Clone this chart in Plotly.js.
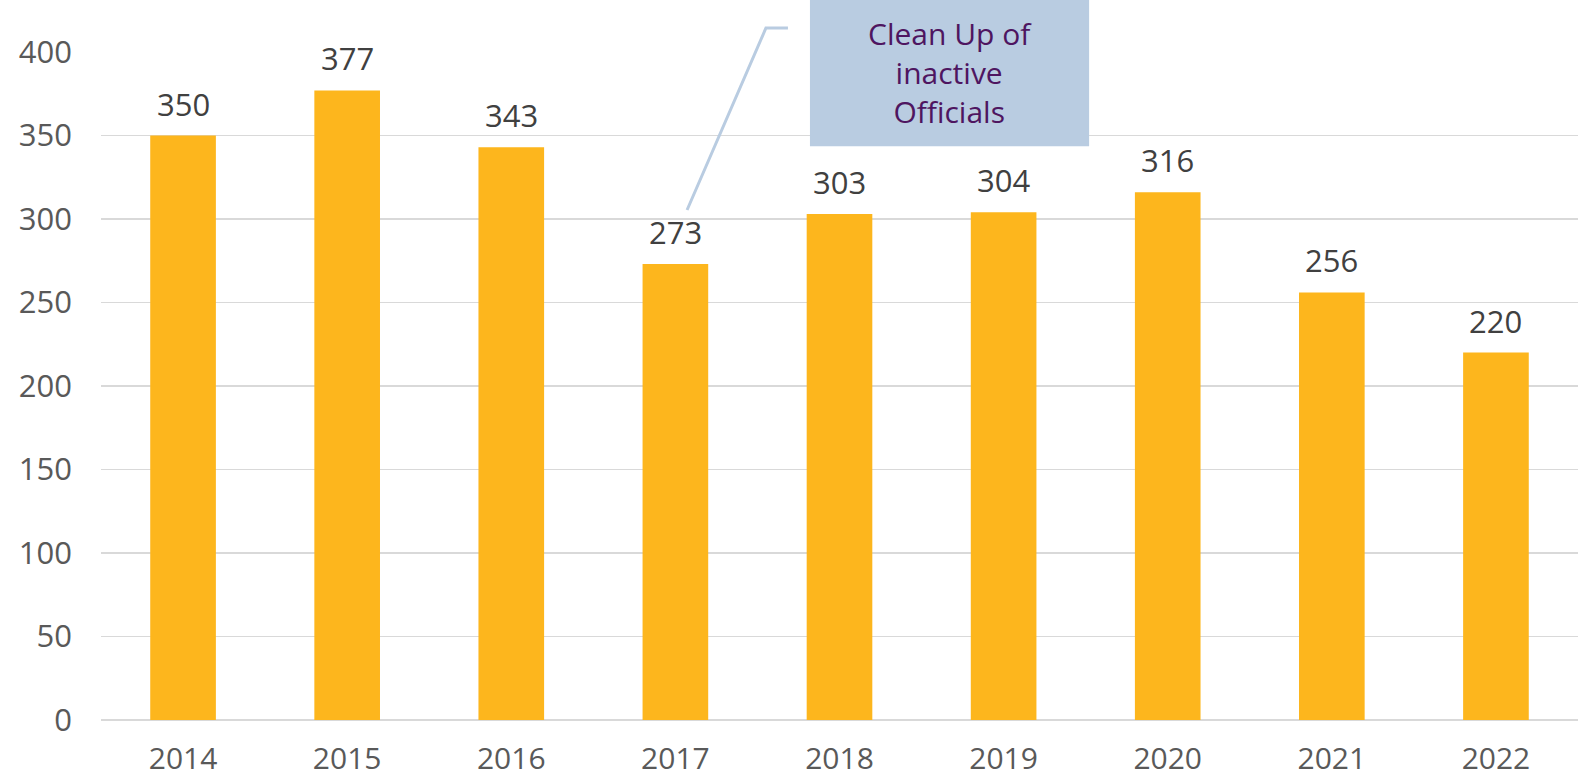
<!DOCTYPE html>
<html>
<head>
<meta charset="utf-8">
<script src="https://cdn.plot.ly/plotly-3.0.1.min.js"></script>
<style>html,body{margin:0;padding:0;background:#fff;}#chart{width:1578px;height:778px;}</style>
</head>
<body>
<div id="chart"></div>
<script>
const years = ['2014','2015','2016','2017','2018','2019','2020','2021','2022'];
const values = [350, 377, 343, 273, 303, 304, 316, 256, 220];
const yTicks = [0, 50, 100, 150, 200, 250, 300, 350, 400];
const calloutText = 'Clean Up of<br>inactive<br>Officials';

const FONT = 'Open Sans, sans-serif';

const trace = {
  type: 'bar',
  x: years,
  y: values,
  marker: {color: '#FDB61D'},
  hoverinfo: 'x+y'
};

const labelAnnotations = years.map((yr, i) => ({
  x: i, y: values[i], xref: 'x', yref: 'y',
  text: String(values[i]), showarrow: false,
  yanchor: 'bottom', yshift: 9,
  font: {family: FONT, size: 31, color: '#404040'}
}));

const layout = {
  width: 1578, height: 778,
  margin: {l: 101, r: 0, t: 52, b: 58, pad: 0},
  paper_bgcolor: '#ffffff', plot_bgcolor: '#ffffff',
  showlegend: false,
  bargap: 0.6,
  xaxis: {
    type: 'category',
    range: [-0.5, years.length - 0.5],
    showgrid: false, zeroline: false, showline: false,
    ticks: '', ticklabelstandoff: 18,
    tickfont: {family: FONT, size: 30, color: '#595959'}
  },
  yaxis: {
    range: [0, 400],
    tickvals: yTicks,
    showgrid: true, gridcolor: '#d9d9d9', gridwidth: 1.5,
    zeroline: true, zerolinecolor: '#d9d9d9', zerolinewidth: 1.5,
    showline: false, ticks: '', ticklabelstandoff: 28,
    tickfont: {family: FONT, size: 31, color: '#595959'}
  },
  shapes: [
    {type: 'rect', xref: 'paper', yref: 'paper', x0: 0.480, x1: 0.669, y0: 0.859, y1: 1.08,
     fillcolor: '#B9CCE1', line: {width: 0}, layer: 'above'},
    {type: 'path', xref: 'paper', yref: 'paper',
     path: 'M 0.3968 0.7635 L 0.4502 1.0359 L 0.4651 1.0359',
     line: {color: '#B9CCE1', width: 3}, layer: 'above'}
  ],
  annotations: labelAnnotations.concat([
    {xref: 'paper', yref: 'paper', x: 0.5745, y: 0.97, text: calloutText,
     showarrow: false, xanchor: 'center', yanchor: 'middle', align: 'center',
     font: {family: FONT, size: 30, color: '#4E1560'}}
  ])
};

Plotly.newPlot('chart', [trace], layout, {displayModeBar: false, staticPlot: true});
</script>
</body>
</html>
